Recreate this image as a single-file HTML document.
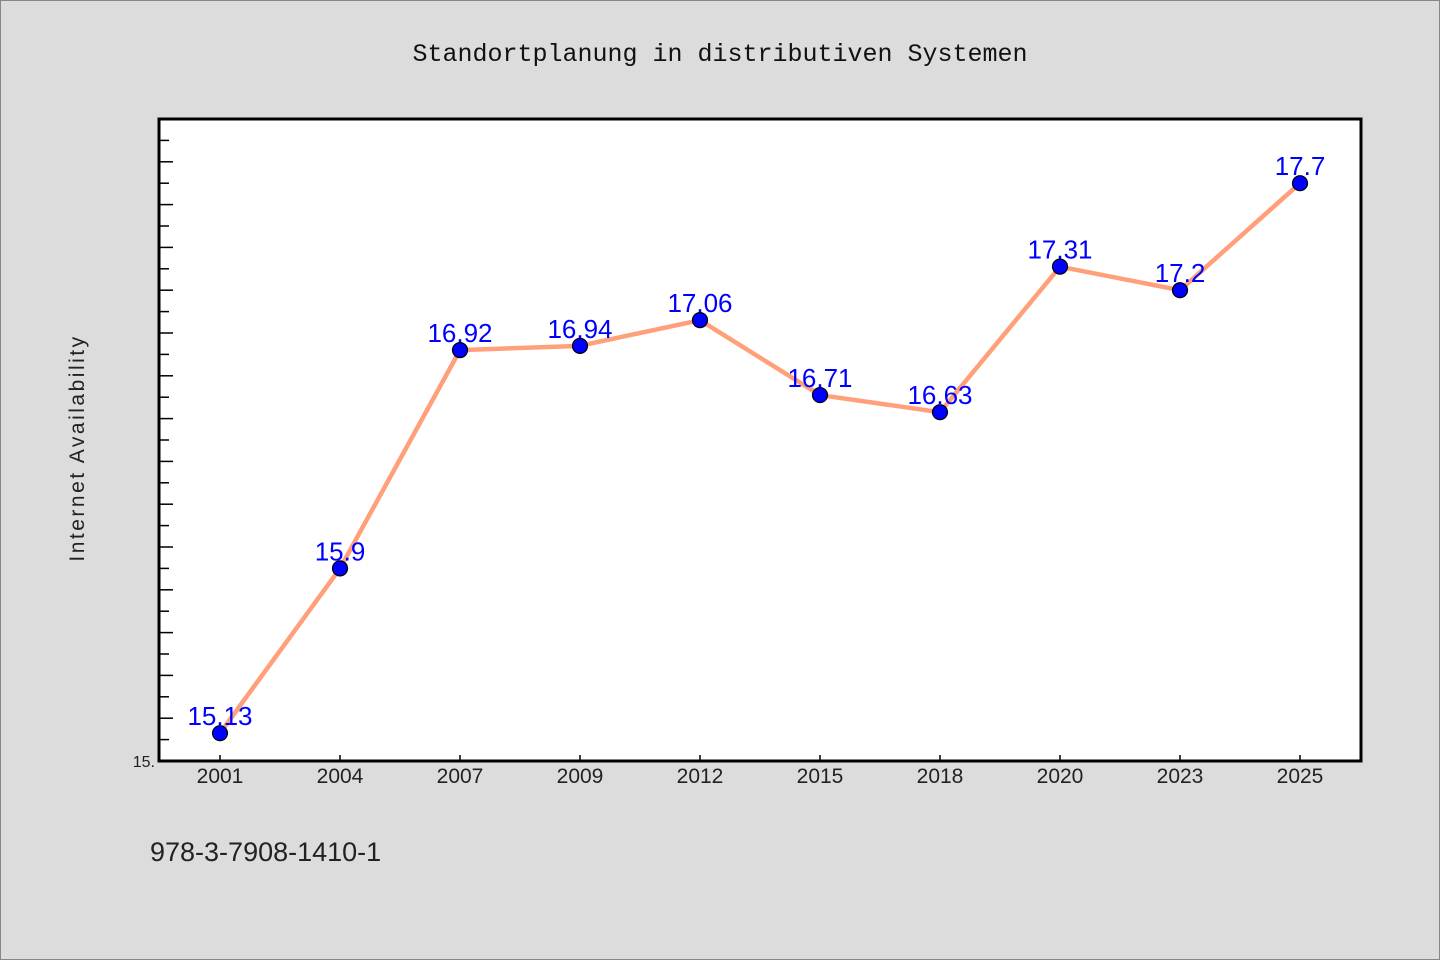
<!DOCTYPE html>
<html><head><meta charset="utf-8"><style>
body{margin:0;background:#dcdcdc;}
svg{display:block;font-family:"Liberation Sans","Noto Sans CJK SC",sans-serif;}
</style></head><body>
<svg id="chart" width="1440" height="960">
<rect x="0.5" y="0.5" width="1439" height="959" fill="#dcdcdc" stroke="#888"/>
<text x="720" y="61" text-anchor="middle" font-size="25" font-family="Liberation Mono, monospace" fill="#111">Standortplanung in distributiven Systemen</text>
<rect x="159" y="119" width="1202" height="642" fill="#fff" stroke="#000" stroke-width="3"/>
<text transform="translate(84,448) rotate(-90)" text-anchor="middle" font-size="21" letter-spacing="2.5" fill="#222">Internet Availability</text>
<text x="150" y="848" font-size="27" fill="#222" transform="translate(0,13)">978-3-7908-1410-1</text>
<g id="ticks"></g><g id="series"></g>
</svg>
<script>
const categories=["2001","2004","2007","2009","2012","2015","2018","2020","2023","2025"];
const values=[15.13,15.9,16.92,16.94,17.06,16.71,16.63,17.31,17.2,17.7];
const yMin=15,yMax=18;
const NS="http://www.w3.org/2000/svg";
const L=159,R=1361,T=119,B=761;
const xs=i=>220+i*((1300-220)/(categories.length-1));
const ys=v=>B-(v-yMin)/(yMax-yMin)*(B-T);
function mk(tag,a,p){const e=document.createElementNS(NS,tag);for(const k in a)e.setAttribute(k,a[k]);p.appendChild(e);return e;}
const tg=document.getElementById('ticks'),sg=document.getElementById('series');
for(let k=1;k<30;k++){const v=yMin+k*0.1;const y=ys(v);
const t=mk('line',{x1:L,x2:L+(k%2==0?14:10),y1:y,y2:y,stroke:'#000','stroke-width':1.5},tg);

}
const yl=mk('text',{x:155,y:B+6,'text-anchor':'end','font-size':16,fill:'#222'},tg);yl.textContent="15.";


categories.forEach((c,i)=>{const x=xs(i);
const t=mk('line',{x1:x,x2:x,y1:B,y2:B-6,stroke:'#000','stroke-width':1.5},tg);


const l=mk('text',{x:x,y:783,'text-anchor':'middle','font-size':21,fill:'#222'},tg);l.textContent=c;

});
const pl=mk('polyline',{points:values.map((v,i)=>xs(i)+','+ys(v)).join(' '),fill:'none',stroke:'#FFA07A','stroke-width':4.5,'stroke-linejoin':'round'},sg);


values.forEach((v,i)=>{
const c=mk('circle',{cx:xs(i),cy:ys(v),r:7.5,fill:'#0000ff',stroke:'#000','stroke-width':1.2},sg);


const t=mk('text',{x:xs(i),y:ys(v)-8,'text-anchor':'middle','font-size':26,fill:'#0000ff'},sg);t.textContent=String(v);

});
</script>
</body></html>
